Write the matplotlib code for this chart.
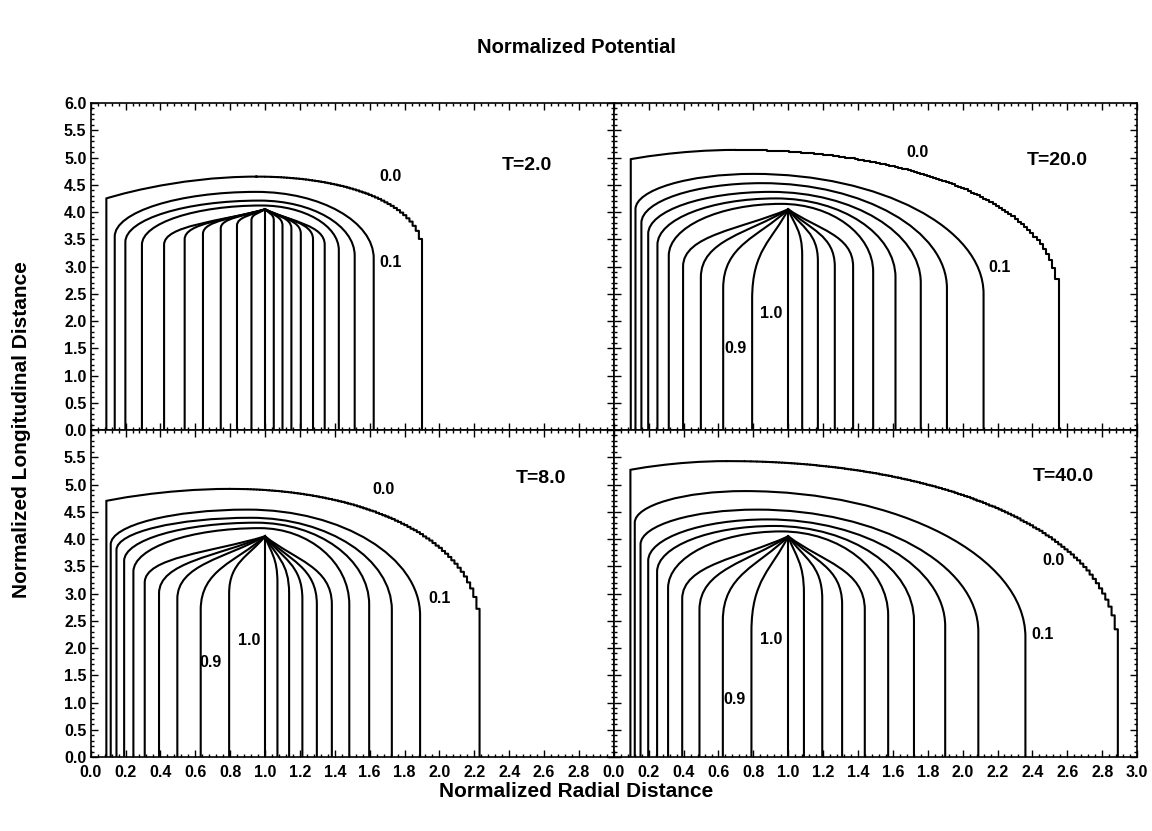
import matplotlib
matplotlib.use("Agg")
import numpy as np
import matplotlib.pyplot as plt
from matplotlib.path import Path
from matplotlib.patches import PathPatch
from matplotlib.bezier import BezierSegment
from matplotlib.ticker import MultipleLocator

plt.rcParams['font.family'] = ['Liberation Sans', 'DejaVu Sans']
plt.rcParams['font.weight'] = 'bold'

# contour levels drawn as left/right pairs, plus the 1.0 line at the tip
levels = [0.0, 0.1, 0.2, 0.3, 0.4, 0.5, 0.6, 0.7, 0.8, 0.9]
tip_x, tip_y = 1.0, 4.05

# T=2.0  (foot positions, top heights, x of top, shoulder heights)
t2_left = [0.09, 0.138, 0.199, 0.294, 0.421, 0.539, 0.644, 0.746, 0.839, 0.922]
t2_right = [1.90, 1.623, 1.514, 1.423, 1.342, 1.275, 1.205, 1.151, 1.10, 1.05]
t2_top = [4.65, 4.37, 4.21, 4.12, 4.05, 4.05, 4.05, 4.05, 4.05, 4.05]
t2_peak = [0.95, 0.95, 0.97, 0.98, 1.0, 1.0, 1.0, 1.0, 1.0, 1.0]
t2_sh_left = [4.25, 3.55, 3.45, 3.4, 3.4, 3.5, 3.6, 3.7, 3.75, 3.85]
t2_sh_right = [3.3, 3.15, 3.2, 3.3, 3.4, 3.5, 3.6, 3.7, 3.75, 3.85]

# T=8.0
t8_left = [0.09, 0.115, 0.148, 0.192, 0.245, 0.31, 0.392, 0.497, 0.631, 0.794]
t8_right = [2.23, 1.889, 1.727, 1.597, 1.483, 1.383, 1.297, 1.214, 1.138, 1.071]
t8_top = [4.92, 4.54, 4.39, 4.3, 4.2, 4.05, 4.05, 4.05, 4.05, 4.05]
t8_peak = [0.8, 0.9, 0.92, 0.95, 0.97, 1.0, 1.0, 1.0, 1.0, 1.0]
t8_sh_left = [4.7, 3.9, 3.8, 3.6, 3.4, 3.2, 3.0, 2.9, 2.7, 3.0]
t8_sh_right = [2.4, 2.6, 2.7, 2.8, 2.8, 2.8, 2.8, 2.9, 3.0, 3.2]

# T=20.0
t20_left = [0.097, 0.124, 0.158, 0.197, 0.25, 0.315, 0.397, 0.499, 0.627, 0.793]
t20_right = [2.55, 2.12, 1.91, 1.76, 1.615, 1.487, 1.372, 1.267, 1.17, 1.08]
t20_top = [5.14, 4.7, 4.53, 4.37, 4.25, 4.15, 4.05, 4.05, 4.05, 4.05]
t20_peak = [0.7, 0.8, 0.85, 0.9, 0.93, 0.96, 1.0, 1.0, 1.0, 1.0]
t20_sh_left = [4.97, 4.05, 3.8, 3.6, 3.4, 3.2, 3.0, 2.8, 2.6, 2.4]
t20_sh_right = [2.47, 2.5, 2.6, 2.7, 2.8, 2.9, 3.0, 3.0, 3.1, 3.2]

# T=40.0
t40_left = [0.095, 0.12, 0.153, 0.197, 0.248, 0.311, 0.392, 0.491, 0.625, 0.789]
t40_right = [2.89, 2.36, 2.09, 1.90, 1.721, 1.573, 1.439, 1.309, 1.195, 1.09]
t40_top = [5.43, 4.88, 4.54, 4.36, 4.24, 4.14, 4.05, 4.05, 4.05, 4.05]
t40_peak = [0.65, 0.75, 0.82, 0.88, 0.92, 0.96, 1.0, 1.0, 1.0, 1.0]
t40_sh_left = [5.27, 4.3, 3.9, 3.6, 3.4, 3.1, 2.9, 2.7, 2.5, 2.3]
t40_sh_right = [2.0, 2.2, 2.3, 2.4, 2.5, 2.6, 2.7, 2.8, 2.9, 3.0]

panels = [
    ("T=2.0", t2_left, t2_right, t2_top, t2_peak, t2_sh_left, t2_sh_right,
     (2.5, 4.86), [("0.0", 1.72, 4.65), ("0.1", 1.72, 3.08)]),
    ("T=20.0", t20_left, t20_right, t20_top, t20_peak, t20_sh_left, t20_sh_right,
     (2.54, 4.94), [("0.0", 1.74, 5.09), ("0.1", 2.21, 2.99), ("1.0", 0.9, 2.13), ("0.9", 0.7, 1.49)]),
    ("T=8.0", t8_left, t8_right, t8_top, t8_peak, t8_sh_left, t8_sh_right,
     (2.58, 5.12), [("0.0", 1.68, 4.91), ("0.1", 2.0, 2.9), ("1.0", 0.91, 2.13), ("0.9", 0.69, 1.74)]),
    ("T=40.0", t40_left, t40_right, t40_top, t40_peak, t40_sh_left, t40_sh_right,
     (2.58, 5.14), [("0.0", 2.52, 3.6), ("0.1", 2.46, 2.25), ("1.0", 0.9, 2.15), ("0.9", 0.69, 1.05)]),
]

x_ticks = [0.0, 0.2, 0.4, 0.6, 0.8, 1.0, 1.2, 1.4, 1.6, 1.8, 2.0, 2.2, 2.4, 2.6, 2.8, 3.0]
y_ticks = [0.0, 0.5, 1.0, 1.5, 2.0, 2.5, 3.0, 3.5, 4.0, 4.5, 5.0, 5.5, 6.0]


def halves(lev, xl, xr, yt, xp, ysl, ysr):
    k = 0.55
    dome = yt > tip_y + 0.01
    c1 = (xl, ysl) if lev == 0.0 else (xl, ysl + k * (yt - ysl))
    if dome:
        c2 = (xp - k * (xp - xl), yt)
    else:
        c2 = (xp + 0.45 * (xl - xp), yt + 0.35 * (ysl - yt))
    left = [(xl, ysl), c1, c2, (xp, yt)]
    if dome:
        d1 = (xp + k * (xr - xp), yt)
    else:
        d1 = (xp + 0.45 * (xr - xp), yt + 0.35 * (ysr - yt))
    kr = 0.62 if lev == 0.0 else k
    right = [(xp, yt), d1, (xr, ysr + kr * (yt - ysr)), (xr, ysr)]
    return left, right


def contour_path(left, right):
    xl, ysl = left[0]
    xr, ysr = right[-1]
    verts = [(xl, 0.0)] + left + right[1:] + [(xr, 0.0)]
    codes = ([Path.MOVETO, Path.LINETO] + [Path.CURVE4] * 3 +
             [Path.CURVE4] * 3 + [Path.LINETO])
    return Path(verts, codes)


def stepped(ctrl, dx=0.018):
    # outer contour drawn on the coarse grid, giving the staircase look
    pts = BezierSegment(np.array(ctrl))(np.linspace(0, 1, 400))
    xr = ctrl[-1][0]
    xq = xr - np.round((xr - pts[:, 0]) / dx) * dx
    xs, ys = [pts[0, 0]], [pts[0, 1]]
    for i in range(1, len(pts)):
        if xq[i] != xq[i - 1]:
            xs.append(xq[i])
            ys.append(ys[-1])
        xs.append(xq[i])
        ys.append(pts[i, 1])
    return xs, ys


fig, axes = plt.subplots(2, 2, figsize=(11.52, 8.31), dpi=100)
fig.subplots_adjust(left=0.0787, right=0.987, top=0.876, bottom=0.089,
                    wspace=0, hspace=0)

for ax, (name, left, right, top, peak, shl, shr, tpos, labs) in zip(axes.flat, panels):
    for i, lev in enumerate(levels):
        lh, rh = halves(lev, left[i], right[i], top[i], peak[i], shl[i], shr[i])
        if lev == 0.0:
            lp = Path([(left[i], 0.0)] + lh, [Path.MOVETO, Path.LINETO] + [Path.CURVE4] * 3)
            ax.add_patch(PathPatch(lp, fill=False, lw=1.5, ec='black'))
            xs, ys = stepped(rh)
            ax.plot(xs + [right[i]], ys + [0.0], color='black', lw=1.5)
        else:
            ax.add_patch(PathPatch(contour_path(lh, rh), fill=False, lw=1.5, ec='black'))
    ax.plot([tip_x, tip_x], [0, tip_y], color='black', lw=1.5)
    ax.text(tpos[0], tpos[1], name, fontsize=14, fontweight='bold',
            ha='center', va='center')
    for s, x, y in labs:
        ax.text(x, y, s, fontsize=11.5, fontweight='bold', ha='center', va='center')
    ax.set_xlim(0, 3)
    ax.set_ylim(0, 6)
    ax.set_xticks(x_ticks)
    ax.set_yticks(y_ticks)
    ax.xaxis.set_minor_locator(MultipleLocator(0.04))
    ax.yaxis.set_minor_locator(MultipleLocator(0.1))
    ax.tick_params(which='both', direction='in', top=True, right=True,
                   labelsize=11.5, width=1)
    ax.tick_params(axis='x', pad=6)
    ax.tick_params(axis='y', pad=3)
    ax.tick_params(which='major', length=5)
    ax.tick_params(which='minor', length=2.5)
    for sp in ax.spines.values():
        sp.set_linewidth(1.2)
    ax.set_xticklabels([])
    ax.set_yticklabels([])

# tick labels only on outer edges
axes[0, 0].set_yticklabels([f"{v:.1f}" for v in y_ticks])
axes[1, 0].set_yticklabels([f"{v:.1f}" for v in y_ticks[:-1]] + [""])
axes[1, 0].set_xticklabels([f"{v:.1f}" for v in x_ticks[:-1]] + [""])
axes[1, 1].set_xticklabels([f"{v:.1f}" for v in x_ticks])
for ax in axes.flat:
    for lab in ax.get_xticklabels() + ax.get_yticklabels():
        lab.set_fontweight('bold')

fig.text(0.5, 0.943, "Normalized Potential", ha='center', va='center',
         fontsize=14.5, fontweight='bold')
fig.text(0.5, 0.047, "Normalized Radial Distance", ha='center', va='center',
         fontsize=15, fontweight='bold')
fig.text(0.019, 0.483, "Normalized Longitudinal Distance", ha='center', va='center',
         rotation=90, fontsize=15, fontweight='bold')

fig.savefig("out.png", dpi=100)
